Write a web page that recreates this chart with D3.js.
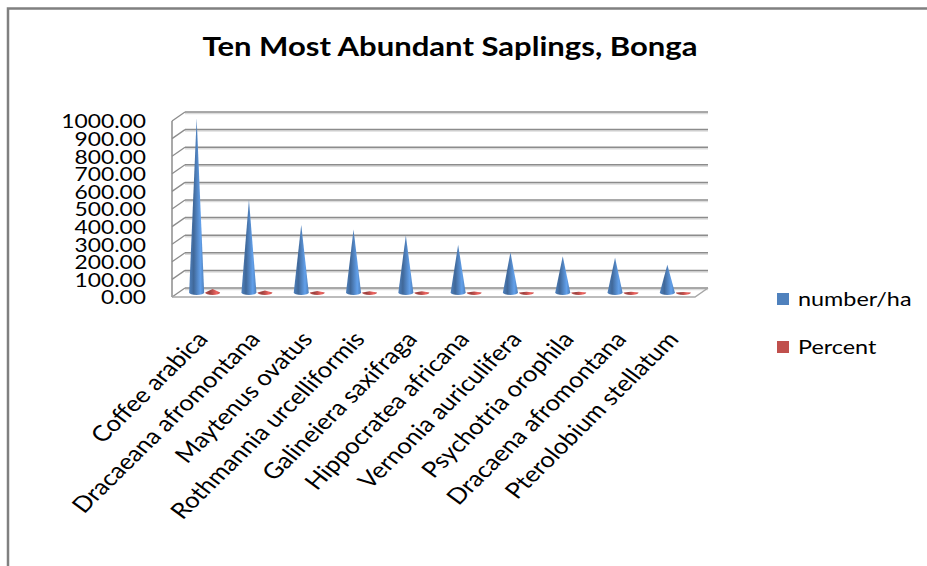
<!DOCTYPE html>
<html lang="en">
<head>
<meta charset="utf-8">
<title>Ten Most Abundant Saplings, Bonga</title>
<script src="https://d3js.org/d3.v7.min.js"></script>
<style>
  html, body { margin: 0; background: #fff; overflow: hidden; }
  svg { display: block; }
  text { font-family: Lato, "Open Sans", sans-serif; fill: #000; }
</style>
</head>
<body>
<script>
// data
var species = ["Coffee arabica", "Dracaeana afromontana", "Maytenus ovatus",
  "Rothmannia urcelliformis", "Galineiera saxifraga", "Hippocratea africana",
  "Vernonia auriculifera", "Psychotria orophila", "Dracaena afromontana",
  "Pterolobium stellatum"];
var numberPerHa = [990, 527, 385, 358, 324, 271, 229, 206, 197, 157];
var percent = [20.5, 10.9, 8.0, 7.4, 6.7, 5.6, 4.7, 4.3, 4.1, 3.3];
var seriesNames = ["number/ha", "Percent"];
var seriesColors = ["#4f81bd", "#c0504d"];
var yTicks = d3.range(0, 1001, 100);

var width = 927, height = 566;
var sx = 1.17;             // the source picture is a bit stretched sideways
var depth = [-13, 9];      // back wall -> front edge offset

var svg = d3.select("body").append("svg")
  .attr("width", width).attr("height", height);

// outer frame: only top and left edges are in view
svg.append("path")
  .attr("d", "M8," + height + "V8.5H" + width)
  .attr("fill", "none").attr("stroke", "#808080").attr("stroke-width", 2.5);

// title
svg.append("text")
  .attr("x", 450).attr("y", 56)
  .attr("text-anchor", "middle")
  .attr("font-size", 26).attr("font-weight", "bold")
  .attr("textLength", 495).attr("lengthAdjust", "spacingAndGlyphs")
  .text("Ten Most Abundant Saplings, Bonga");

// scales on the back wall
var y = d3.scaleLinear().domain([0, 1000]).range([288, 112]);
var x = d3.scaleBand().domain(species).range([185, 708]);
var sub = d3.scaleBand().domain(seriesNames)
  .range([x.bandwidth() / 2 - 16, x.bandwidth() / 2 + 16]);

var defs = svg.append("defs");
seriesColors.forEach(function(c, i) {
  var g = defs.append("linearGradient").attr("id", "cone" + i)
    .attr("x1", 0).attr("x2", 1).attr("y1", 0).attr("y2", 0);
  var dark = d3.color(c).darker(0.6), light = d3.color(c).brighter(0.6);
  g.append("stop").attr("offset", "0%").attr("stop-color", c);
  g.append("stop").attr("offset", "30%").attr("stop-color", dark);
  g.append("stop").attr("offset", "75%").attr("stop-color", light);
  g.append("stop").attr("offset", "100%").attr("stop-color", c);
});

// walls and gridlines
var grid = svg.append("g");
yTicks.forEach(function(t) {
  var yy = y(t);
  grid.append("line")
    .attr("x1", 185).attr("x2", 708).attr("y1", yy + 1.5).attr("y2", yy + 1.5)
    .attr("stroke", "#dcdcdc").attr("stroke-width", 1.5);
  grid.append("line")
    .attr("x1", 185).attr("x2", 708).attr("y1", yy).attr("y2", yy)
    .attr("stroke", "#8c8c8c").attr("stroke-width", 1.5);
  grid.append("line")
    .attr("x1", 185 + depth[0]).attr("y1", yy + depth[1])
    .attr("x2", 185).attr("y2", yy)
    .attr("stroke", "#8c8c8c").attr("stroke-width", 1.3);
});
// left wall edge
grid.append("line")
  .attr("x1", 185 + depth[0]).attr("x2", 185 + depth[0])
  .attr("y1", y(1000) + depth[1]).attr("y2", y(0) + depth[1])
  .attr("stroke", "#8c8c8c").attr("stroke-width", 1.5);
// floor front + right edge
grid.append("path")
  .attr("d", "M" + (185 + depth[0]) + "," + (y(0) + depth[1]) +
    "L" + (708 + depth[0]) + "," + (y(0) + depth[1]) +
    "L708," + y(0))
  .attr("fill", "none").attr("stroke", "#a6a6a6").attr("stroke-width", 1.5);

// y labels
svg.append("g").selectAll("text")
  .data(yTicks).enter().append("text")
  .attr("transform", function(d) {
    return "translate(146," + (y(d) + depth[1]) + ") scale(" + sx + ",1)";
  })
  .attr("text-anchor", "end")
  .attr("dominant-baseline", "central")
  .attr("font-size", 19.5)
  .text(function(d) { return d3.format(".2f")(d); });

// cones, sitting half way into the depth
var mid = [depth[0] / 2, depth[1] / 2];
var rows = [];
species.forEach(function(s, i) {
  rows.push({ cat: s, series: seriesNames[0], value: numberPerHa[i], k: 0 });
  rows.push({ cat: s, series: seriesNames[1], value: percent[i], k: 1 });
});

svg.append("g").selectAll("path")
  .data(rows).enter().append("path")
  .attr("d", function(d) {
    var cx = x(d.cat) + sub(d.series) + sub.bandwidth() / 2 + mid[0];
    var yb = y(0) + mid[1], yt = y(d.value) + mid[1];
    var r = 7.5, ry = 2.5;
    return "M" + (cx - r) + "," + yb + "L" + cx + "," + yt + "L" + (cx + r) + "," + yb +
      "A" + r + "," + ry + " 0 0 1 " + (cx - r) + "," + yb + "Z";
  })
  .attr("fill", function(d) { return "url(#cone" + d.k + ")"; });

// x labels
svg.append("g").selectAll("text")
  .data(species).enter().append("text")
  .attr("transform", function(d) {
    var px = x(d) + x.bandwidth() / 2 + depth[0] + 11;
    return "translate(" + px + ",340) scale(" + sx + ",1) rotate(-49)";
  })
  .attr("text-anchor", "end")
  .attr("font-size", 22)
  .text(function(d) { return d; });

// legend
var legend = svg.append("g").selectAll("g")
  .data(seriesNames).enter().append("g")
  .attr("transform", function(d, i) { return "translate(777," + (293 + i * 48) + ")"; });
legend.append("rect")
  .attr("width", 12).attr("height", 12)
  .attr("fill", function(d, i) { return seriesColors[i]; });
legend.append("text")
  .attr("transform", "translate(21,6) scale(" + sx + ",1)")
  .attr("dominant-baseline", "central")
  .attr("font-size", 20)
  .text(function(d) { return d; });
</script>
</body>
</html>
